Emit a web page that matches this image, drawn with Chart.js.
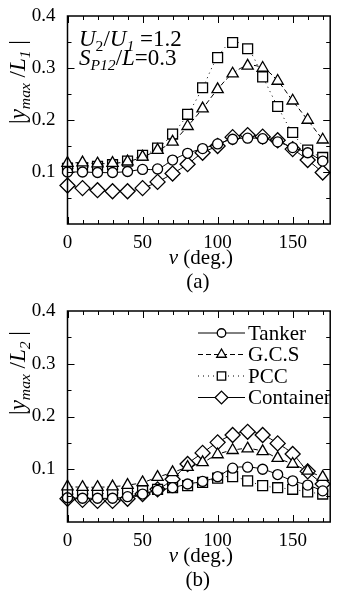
<!DOCTYPE html>
<html lang="en">
<head>
<meta charset="UTF-8">
<title>|ymax/L| vs nu</title>
<script src="https://cdn.jsdelivr.net/npm/chart.js"></script>
<style>
  body { margin: 0; background: #fff; }
  .panel { position: absolute; left: 0; width: 339px; }
</style>
</head>
<body>
<div class="panel" style="top:0;height:295px"><canvas id="chartA"></canvas></div>
<div class="panel" style="top:295px;height:298px"><canvas id="chartB"></canvas></div>

<script>
// encounter angle (deg.)
const nu = [0, 10, 20, 30, 40, 50, 60, 70, 80, 90, 100, 110, 120, 130, 140, 150, 160, 170];
const xTicks = [0, 50, 100, 150];
const yTicks = [0.1, 0.2, 0.3, 0.4];
const seriesNames = ['Tanker', 'G.C.S', 'PCC', 'Container'];

// (a) |ymax/L1|
const tankerA    = [0.100, 0.100, 0.099, 0.099, 0.101, 0.105, 0.106, 0.123, 0.136, 0.145, 0.154, 0.163, 0.165, 0.164, 0.158, 0.147, 0.137, 0.121];
const gcsA       = [0.117, 0.118, 0.116, 0.117, 0.120, 0.129, 0.142, 0.158, 0.188, 0.222, 0.259, 0.289, 0.304, 0.300, 0.275, 0.237, 0.200, 0.162];
const pccA       = [0.107, 0.108, 0.111, 0.114, 0.121, 0.132, 0.146, 0.173, 0.211, 0.262, 0.320, 0.349, 0.337, 0.283, 0.226, 0.176, 0.142, 0.128];
const containerA = [0.074, 0.069, 0.065, 0.063, 0.063, 0.069, 0.081, 0.097, 0.115, 0.137, 0.150, 0.167, 0.171, 0.168, 0.161, 0.144, 0.123, 0.099];

// (b) |ymax/L2|
const tankerB    = [0.046, 0.045, 0.045, 0.045, 0.048, 0.053, 0.060, 0.065, 0.072, 0.077, 0.086, 0.102, 0.104, 0.100, 0.090, 0.078, 0.070, 0.059];
const gcsB       = [0.067, 0.066, 0.066, 0.067, 0.070, 0.075, 0.085, 0.094, 0.104, 0.113, 0.128, 0.136, 0.139, 0.134, 0.121, 0.110, 0.097, 0.085];
const pccB       = [0.053, 0.053, 0.054, 0.054, 0.057, 0.059, 0.062, 0.065, 0.069, 0.075, 0.083, 0.086, 0.078, 0.069, 0.065, 0.062, 0.057, 0.053];
const containerB = [0.044, 0.042, 0.040, 0.040, 0.044, 0.053, 0.062, 0.081, 0.110, 0.131, 0.151, 0.165, 0.171, 0.165, 0.149, 0.129, 0.096, 0.072];

const SERIF = "'Liberation Serif', serif";

// look of each series: line dash + marker
const styles = [
  { dash: [],     pointStyle: 'circle',   radius: 5 },
  { dash: [5, 3], pointStyle: 'triangle', radius: 6.5 },
  { dash: [1, 4], pointStyle: 'rect',     radius: 7 },
  { dash: [],     pointStyle: 'rectRot',  radius: 7.5 }
];

function makeDatasets(values) {
  return values.map((v, i) => ({
    label: seriesNames[i],
    data: v,
    borderColor: '#000',
    borderWidth: 1,
    borderDash: styles[i].dash,
    tension: 0.4,
    pointStyle: styles[i].pointStyle,
    pointRadius: styles[i].radius,
    pointBorderWidth: 1.3,
    pointBackgroundColor: '#fff',
    pointBorderColor: '#000',
    clip: false
  }));
}

// draws a run of text pieces (italic / subscript), starting at x
function richText(ctx, parts, x, y, size) {
  let cx = x;
  parts.forEach(p => {
    const s = p.sub ? size * 0.68 : size;
    ctx.font = (p.it ? 'italic ' : '') + s + 'px ' + SERIF;
    ctx.fillText(p.t, cx, p.sub ? y + size * 0.22 : y);
    cx += ctx.measureText(p.t).width;
  });
  return cx - x;
}
function richWidth(ctx, parts, size) {
  let w = 0;
  parts.forEach(p => {
    const s = p.sub ? size * 0.68 : size;
    ctx.font = (p.it ? 'italic ' : '') + s + 'px ' + SERIF;
    w += ctx.measureText(p.t).width;
  });
  return w;
}

function marker(ctx, style, r, x, y) {
  ctx.beginPath();
  if (style === 'circle') {
    ctx.arc(x, y, r, 0, Math.PI * 2);
  } else if (style === 'triangle') {
    ctx.moveTo(x, y - r);
    ctx.lineTo(x + r * 0.866, y + r * 0.5);
    ctx.lineTo(x - r * 0.866, y + r * 0.5);
    ctx.closePath();
  } else if (style === 'rect') {
    const s = r * Math.SQRT1_2;
    ctx.rect(x - s, y - s, 2 * s, 2 * s);
  } else {
    ctx.moveTo(x, y - r); ctx.lineTo(x + r, y); ctx.lineTo(x, y + r); ctx.lineTo(x - r, y);
    ctx.closePath();
  }
  ctx.fillStyle = '#fff';
  ctx.fill();
  ctx.lineWidth = 1.3;
  ctx.setLineDash([]);
  ctx.stroke();
}

// frame, inward ticks, titles, notes
const framePlugin = {
  id: 'frame',
  afterDraw(chart, args, opts) {
    const ctx = chart.ctx;
    const a = chart.chartArea;
    const xs = chart.scales.x, ys = chart.scales.y;
    ctx.save();
    ctx.strokeStyle = '#000';
    ctx.fillStyle = '#000';
    ctx.lineWidth = 1.5;
    ctx.setLineDash([]);
    ctx.strokeRect(a.left, a.top, a.right - a.left, a.bottom - a.top);

    ctx.lineWidth = 1;
    ctx.beginPath();
    for (let v = 0; v <= xs.max; v += 10) {
      const px = Math.round(xs.getPixelForValue(v)) + 0.5;
      const len = v % 50 === 0 ? 7 : 4;
      ctx.moveTo(px, a.bottom); ctx.lineTo(px, a.bottom - len);
      ctx.moveTo(px, a.top); ctx.lineTo(px, a.top + len);
    }
    for (let k = 1; k < 8; k++) {
      const v = k * 0.05;
      const py = Math.round(ys.getPixelForValue(v)) + 0.5;
      const len = k % 2 === 0 ? 7 : 4;
      ctx.moveTo(a.left, py); ctx.lineTo(a.left + len, py);
      ctx.moveTo(a.right, py); ctx.lineTo(a.right - len, py);
    }
    ctx.stroke();

    // x title and panel tag
    const midX = (a.left + a.right) / 2 + 2;
    ctx.textBaseline = 'alphabetic';
    const xt = [{ t: 'ν', it: true }, { t: ' (deg.)' }];
    richText(ctx, xt, midX - richWidth(ctx, xt, 21) / 2, a.bottom + 40, 21);
    ctx.font = '21px ' + SERIF;
    ctx.textAlign = 'center';
    ctx.fillText(opts.tag, midX - 3, a.bottom + 64);
    ctx.textAlign = 'left';

    // y title, rotated
    const yt = [{ t: '|' }, { t: 'y', it: true }, { t: 'max', it: true, sub: true }, { t: ' /' },
                { t: 'L', it: true }, { t: opts.sub, it: true, sub: true }, { t: ' |' }];
    ctx.save();
    ctx.translate(25, opts.yTitleY);
    ctx.rotate(-Math.PI / 2);
    richText(ctx, yt, -richWidth(ctx, yt, 23) / 2, 0, 23);
    ctx.restore();

    if (opts.note) {
      richText(ctx, [{ t: 'U', it: true }, { t: '2', sub: true }, { t: '/' }, { t: 'U', it: true },
                     { t: '1', it: true, sub: true }, { t: ' =1.2' }], 79, 46, 23);
      richText(ctx, [{ t: 'S', it: true }, { t: 'P12', it: true, sub: true }, { t: '/' },
                     { t: 'L', it: true }, { t: '=0.3' }], 79, 65, 23);
    }

    if (opts.legend) {
      ctx.font = '21px ' + SERIF;
      ctx.textBaseline = 'middle';
      chart.data.datasets.forEach((ds, i) => {
        const y = 38 + i * 21.5;
        ctx.beginPath();
        ctx.lineWidth = 1;
        ctx.setLineDash(styles[i].dash);
        ctx.moveTo(198, y); ctx.lineTo(245, y);
        ctx.stroke();
        marker(ctx, styles[i].pointStyle, styles[i].radius * 0.85, 221.5, y);
        ctx.fillStyle = '#000';
        ctx.fillText(ds.label, 248, y + 1);
      });
    }
    ctx.restore();
  }
};

function makeChart(id, values, opts) {
  return new Chart(document.getElementById(id), {
    type: 'line',
    data: { labels: nu, datasets: makeDatasets(values) },
    options: {
      responsive: true,
      maintainAspectRatio: false,
      animation: false,
      devicePixelRatio: 1,
      layout: { padding: { left: 0, right: 1, top: 16, bottom: 0 } },
      plugins: { legend: { display: false }, tooltip: { enabled: false }, frame: opts },
      scales: {
        x: {
          type: 'linear', min: 0, max: 175,
          grid: { display: false },
          border: { display: false },
          afterBuildTicks: s => { s.ticks = xTicks.map(v => ({ value: v })); },
          afterFit: s => { s.height = 71; },
          ticks: { color: '#000', padding: 0, maxRotation: 0, font: { family: SERIF, size: 19 } }
        },
        y: {
          min: 0, max: 0.4,
          grid: { display: false },
          border: { display: false },
          afterBuildTicks: s => { s.ticks = yTicks.map(v => ({ value: v })); },
          afterFit: s => { s.width = 67.5; },
          ticks: { color: '#000', padding: 4, font: { family: SERIF, size: 19 },
                   callback: v => v.toFixed(1) }
        }
      }
    },
    plugins: [framePlugin]
  });
}

makeChart('chartA', [tankerA, gcsA, pccA, containerA],
          { tag: '(a)', sub: '1', yTitleY: 82, note: true, legend: false });
makeChart('chartB', [tankerB, gcsB, pccB, containerB],
          { tag: '(b)', sub: '2', yTitleY: 78, note: false, legend: true });
</script>
</body>
</html>
